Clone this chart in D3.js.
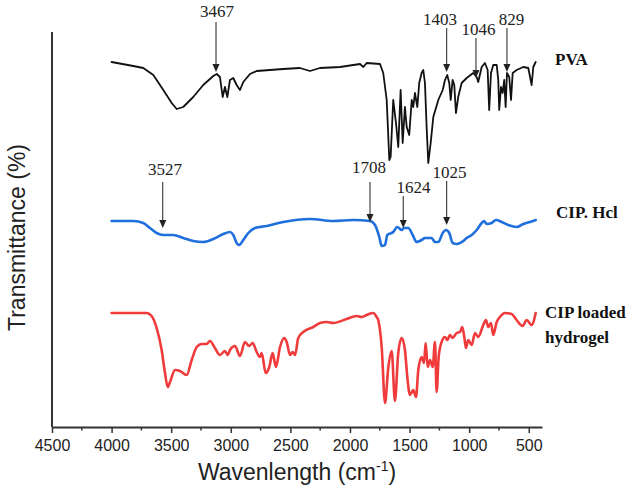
<!DOCTYPE html>
<html><head><meta charset="utf-8">
<script src="https://cdn.jsdelivr.net/npm/d3@7"></script>
<style>body{margin:0;background:#fff}</style>
</head><body><svg id="c" width="637" height="496"></svg>
<script>
// ---- data ----
const xTicks = [4500,4000,3500,3000,2500,2000,1500,1000,500];
const seriesNames = ["PVA", "CIP. Hcl", "CIP loaded hydrogel"];

const pvaWn = [4000,3818,3734,3650,3566,3496,3454,3399,3315,3231,3147,3118,3091,3068,3049,3029,3007,2979,2951,2923,2895,2867,2839,2783,2560,2420,2336,2252,2084,1916,1888,1860,1748,1721,1692,1670,1659,1637,1614,1595,1575,1558,1539,1524,1503,1482,1469,1455,1435,1419,1399,1385,1371,1357,1343,1323,1301,1259,1222,1203,1184,1167,1155,1139,1125,1111,1092,1063,1021,966,937,924,895,868,845,832,817,798,769,756,748,733,719,706,694,683,664,649,635,602,546,504,476,462,442];
const pvaT = [365,361,359,352,337,324,318,320,330,342,351,353,350,330,340,330,347,349,342,337,345,349,353,356,358,359,356,359,360,363,360,364,363,354,327,267,270,327,304,280,337,284,320,300,292,327,320,334,320,344,354,357,344,300,264,284,310,327,337,347,352,344,327,347,342,314,330,344,349,354,350,345,360,364,357,317,354,362,362,347,317,340,334,347,320,354,350,327,354,357,360,359,342,360,365];

const cipWn = [4000,3818,3734,3678,3622,3566,3482,3399,3315,3231,3147,3063,3007,2979,2951,2929,2895,2853,2797,2699,2560,2336,2140,1972,1832,1790,1754,1734,1706,1687,1637,1603,1566,1547,1511,1474,1441,1399,1371,1315,1287,1259,1222,1195,1167,1139,1105,1050,1021,979,937,895,876,853,811,775,727,672,602,546,490,442];
const cipT = [206,206,204,199,194,192,192,189,186,185,188,193,195,192,184,182,187,194,199,201,205,208,206,207,206,202,190,181,182,192,195,200,197,199,199,192,185,187,189,189,185,185,194,197,194,184,183,186,189,192,197,204,206,203,204,207,205,202,200,203,205,207];

const gelWn = [4000,3706,3664,3622,3580,3552,3529,3510,3468,3426,3370,3328,3286,3244,3202,3175,3133,3091,3049,3026,3007,2965,2923,2881,2847,2816,2783,2755,2741,2707,2677,2649,2621,2587,2551,2531,2503,2481,2461,2434,2392,2308,2252,2196,2140,2028,1944,1902,1860,1805,1776,1763,1734,1706,1679,1650,1623,1595,1566,1539,1519,1497,1469,1446,1427,1399,1379,1365,1348,1329,1306,1287,1273,1256,1231,1203,1184,1161,1139,1105,1077,1058,1041,1027,1008,979,951,924,882,859,840,817,798,769,742,700,644,602,551,518,476,442];
const gelT = [114,114,111,99,77,54,40,45,57,56,52,67,80,83,83,86,79,72,76,72,77,81,71,85,81,84,75,70,74,54,60,74,60,80,89,85,72,75,72,89,95,100,104,105,104,108,111,110,112,114,110,107,80,24,59,76,26,74,89,77,50,32,37,30,57,70,64,84,60,67,60,85,35,70,85,90,87,92,89,94,95,100,90,79,87,82,94,90,102,107,100,104,92,105,110,114,113,107,101,107,102,114];

// annotations: label, arrow wavenumber, label wavenumber, tip T, tail T, label baseline T
const annLabels = ["3467","1403","1046","829","3527","1708","1624","1025"];
const annArrowWn = [3124,1189,943,683,3571,1832,1553,1189];
const annLabelWn = [3116,1245,922,644,3552,1841,1467,1165];
const annTipT   = [355,355,349,355,199,205,199,202];
const annTailT  = [405,399,389,399,245,245,231,246];
const annTextT  = [410,402,392,402,252,254,234,249];

// ---- drawing ----
const svg = d3.select("#c");
const x = d3.scaleLinear().domain([4500, 389]).range([52, 542]);
const y = d3.scaleLinear().domain([0, 395]).range([427, 32]);

const series = [
  {wn: pvaWn, t: pvaT, color: "#111111", w: 1.8, curve: d3.curveLinear},
  {wn: cipWn, t: cipT, color: "#1f6fdc", w: 2.6, curve: d3.curveMonotoneX},
  {wn: gelWn, t: gelT, color: "#ef3b3b", w: 2.6, curve: d3.curveMonotoneX}
];

series.forEach(s => {
  const pts = s.wn.map((v, i) => [v, s.t[i]]);
  const line = d3.line().x(d => x(d[0])).y(d => y(d[1])).curve(s.curve);
  svg.append("path").datum(pts).attr("d", line)
    .attr("fill", "none").attr("stroke", s.color).attr("stroke-width", s.w)
    .attr("stroke-linejoin", "round").attr("stroke-linecap", "round");
});

// axes
const axisColor = "#333";
const xAxis = d3.axisBottom(x).tickValues(xTicks).tickFormat(d3.format("d")).tickSize(6).tickSizeOuter(0);
const gx = svg.append("g").attr("transform", `translate(0,${y(0)})`).call(xAxis);
gx.select(".domain").attr("stroke", axisColor).attr("stroke-width", 2);
gx.selectAll(".tick line").attr("stroke", axisColor).attr("stroke-width", 1.5);
gx.selectAll(".tick text").attr("font-family", "Liberation Sans, Arial, sans-serif")
  .attr("font-size", 16).attr("fill", "#222").attr("dy", "0.95em");
// minor ticks
const minor = d3.range(4250, 389, -500);
svg.append("g").selectAll("line").data(minor).join("line")
  .attr("x1", d => x(d)).attr("x2", d => x(d))
  .attr("y1", y(0)).attr("y2", y(0) + 3.5)
  .attr("stroke", axisColor).attr("stroke-width", 1.5);
// y axis line (no ticks)
svg.append("line").attr("x1", x(4500)).attr("x2", x(4500))
  .attr("y1", y(395)).attr("y2", y(0))
  .attr("stroke", axisColor).attr("stroke-width", 2);

// axis titles
const xt = svg.append("text").attr("x", (x.range()[0] + x.range()[1]) / 2).attr("y", 480)
  .attr("text-anchor", "middle").attr("font-family", "Liberation Sans, Arial, sans-serif")
  .attr("font-size", 23).attr("fill", "#222");
xt.append("tspan").text("Wavenlength (cm");
xt.append("tspan").text("-1").attr("font-size", 14).attr("dy", -9);
xt.append("tspan").text(")").attr("dy", 9);

svg.append("text").attr("transform", `translate(25,${(y(395) + y(0)) / 2 + 8}) rotate(-90)`)
  .attr("text-anchor", "middle").attr("font-family", "Liberation Sans, Arial, sans-serif")
  .attr("font-size", 23).attr("fill", "#222").text("Transmittance (%)");

// annotations
const ann = svg.append("g");
annLabels.forEach((lab, i) => {
  const ax = x(annArrowWn[i]), tip = y(annTipT[i]), tail = y(annTailT[i]);
  ann.append("line").attr("x1", ax).attr("x2", ax).attr("y1", tail).attr("y2", tip - 6)
    .attr("stroke", "#333").attr("stroke-width", 1.1);
  ann.append("path").attr("d", `M${ax - 3.5},${tip - 8} L${ax + 3.5},${tip - 8} L${ax},${tip} Z`)
    .attr("fill", "#222");
  ann.append("text").attr("x", x(annLabelWn[i])).attr("y", y(annTextT[i]))
    .attr("text-anchor", "middle").attr("font-family", "Liberation Serif, Times New Roman, serif")
    .attr("font-size", 17).attr("fill", "#222").text(lab);
});

// series labels
const labStyle = sel => sel.attr("font-family", "Liberation Serif, Times New Roman, serif")
  .attr("font-weight", "bold").attr("font-size", 17).attr("fill", "#111");
svg.append("text").attr("x", 555).attr("y", y(pvaT[pvaT.length - 1]) + 3).text(seriesNames[0]).call(labStyle);
svg.append("text").attr("x", 556).attr("y", y(cipT[cipT.length - 1]) - 2).text(seriesNames[1]).call(labStyle);
const gl = svg.append("text").attr("x", 545).attr("y", y(gelT[gelT.length - 1]) + 5).call(labStyle);
gl.append("tspan").text("CIP loaded");
gl.append("tspan").attr("x", 545).attr("dy", 25).text("hydrogel");
</script>
</body></html>
